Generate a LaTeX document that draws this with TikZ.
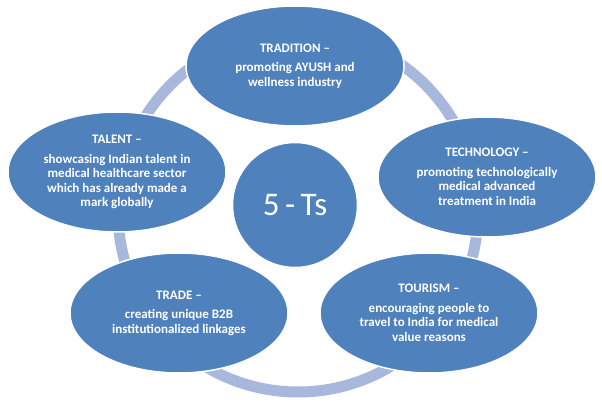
\documentclass[tikz,border=0pt]{standalone}
\usepackage{fontspec}
\setmainfont{Carlito}
\usetikzlibrary{shapes.geometric}
\definecolor{tblue}{RGB}{79,129,189}
\definecolor{tring}{RGB}{167,184,220}
\tikzset{
  tbubble/.style={ellipse, fill=tblue, draw=white, line width=1.5pt,
    minimum width=218pt, minimum height=120pt, inner sep=0pt,
    text=white, align=center, font=\fontsize{13}{14.5}\selectfont\bfseries},
  tcenter/.style={circle, fill=tblue, draw=white, line width=1.5pt,
    minimum size=125pt, inner sep=0pt, text=white,
    font=\fontsize{33}{38}\selectfont},
  tringstyle/.style={draw=tring, line width=11pt}
}
\begin{document}
\begin{tikzpicture}[x=1pt,y=-1pt]
\useasboundingbox (0,0) rectangle (602,409);
\coordinate (ringc) at (298,212);
\draw[tringstyle] (ringc) circle[radius=180];
\node[tbubble] (tradition) at (295,66) {TRADITION --\\[5pt]promoting AYUSH and\\wellness industry};
\node[tbubble] (talent) at (117,172) {TALENT --\\[5pt]showcasing Indian talent in\\medical healthcare sector\\which has already made a\\mark globally};
\node[tbubble] (technology) at (487,177) {TECHNOLOGY --\\[5pt]promoting technologically\\medical advanced\\treatment in India};
\node[tbubble] (trade) at (179,313) {TRADE --\\[5pt]creating unique B2B\\institutionalized linkages};
\node[tbubble] (tourism) at (429,313) {TOURISM --\\[5pt]encouraging people to\\travel to India for medical\\value reasons};
\node[tcenter] (five) at (295,205) {5\,-\,Ts};
\end{tikzpicture}
\end{document}
